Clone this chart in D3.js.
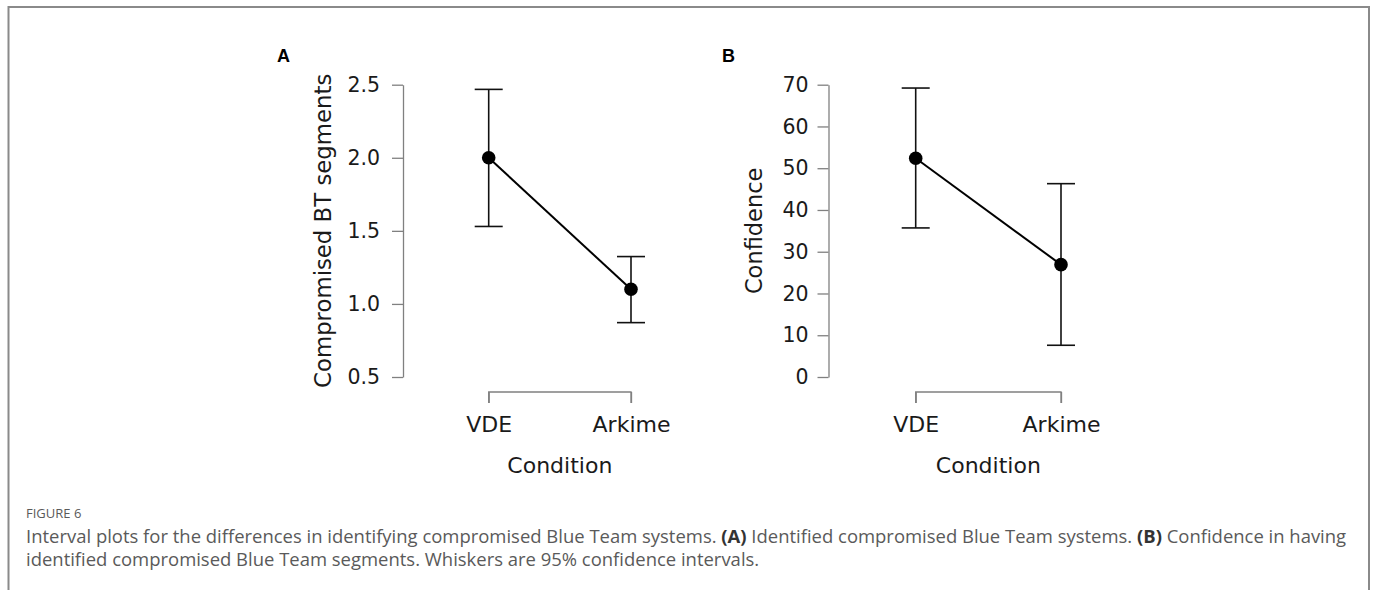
<!DOCTYPE html>
<meta charset="utf-8">
<style>
  body { margin: 0; background: #fff; }
  svg { display: block; }
  .axis path, .axis line { stroke: #808080; stroke-width: 1.3; }
  .axis text { fill: #1a1a1a; font-family: "DejaVu Sans", sans-serif; }
</style>
<svg></svg>

<script src="https://cdn.jsdelivr.net/npm/d3@7"></script>

<script>
// DATA
var conditions = ["VDE", "Arkime"];

// panel A: compromised BT segments, mean and 95% CI
var segMean = [2.0, 1.10],
    segLow = [1.53, 0.872],
    segHigh = [2.468, 1.324],
    segTicks = [0.5, 1.0, 1.5, 2.0, 2.5];

// panel B: confidence, mean and 95% CI
var confMean = [52.4, 26.9],
    confLow = [35.7, 7.6],
    confHigh = [69.2, 46.3],
    confTicks = [0, 10, 20, 30, 40, 50, 60, 70];

var W = 1373, H = 590;
var svg = d3.select("svg").attr("width", W).attr("height", H);

// figure frame
svg.append("path")
   .attr("d", "M8.5," + (H + 5) + "V7H1369V" + (H + 5))
   .attr("fill", "none")
   .attr("stroke", "#8a8a8a")
   .attr("stroke-width", 2);

var plotTop = 84.7, plotBottom = 377;

// draws one interval plot panel
function panel(opt) {
  var g = svg.append("g");

  var y = d3.scaleLinear().domain(opt.domain).range([plotBottom, plotTop]);
  var x = d3.scalePoint().domain(conditions).range(opt.xRange);

  // y axis
  g.append("g")
   .attr("class", "axis")
   .attr("transform", "translate(" + opt.axisX + ",0)")
   .call(d3.axisLeft(y).tickValues(opt.ticks).tickFormat(opt.fmt)
           .tickSize(11).tickSizeOuter(0).tickPadding(opt.pad))
   .call(function(s) { s.selectAll("text").style("font-size", "20.5px"); });

  // x axis bracket
  g.append("g")
   .attr("class", "axis")
   .attr("transform", "translate(0,392)")
   .call(d3.axisBottom(x).tickSize(11).tickSizeOuter(11).tickPadding(13))
   .call(function(s) {
     s.select(".domain").attr("d", "M" + opt.xRange[0] + ",11V0H" + opt.xRange[1] + "V11");
     s.selectAll("text").style("font-size", "22px");
   });

  // axis titles
  g.append("text")
   .attr("transform", "translate(" + opt.titleX + "," + ((plotTop + plotBottom) / 2) + ") rotate(-90)")
   .attr("text-anchor", "middle")
   .style("font-family", "DejaVu Sans, sans-serif")
   .style("font-size", opt.titleSize + "px")
   .attr("fill", "#1a1a1a")
   .text(opt.ylabel);

  g.append("text")
   .attr("x", (opt.xRange[0] + opt.xRange[1]) / 2)
   .attr("y", 473)
   .attr("text-anchor", "middle")
   .style("font-family", "DejaVu Sans, sans-serif")
   .style("font-size", "22px")
   .attr("fill", "#1a1a1a")
   .text("Condition");

  // panel letter
  g.append("text")
   .attr("x", opt.letterX)
   .attr("y", 62)
   .style("font-family", "Liberation Sans, Arial, sans-serif")
   .style("font-weight", "bold")
   .style("font-size", "18px")
   .text(opt.letter);

  var rows = conditions.map(function(c, i) {
    return { c: c, m: opt.mean[i], lo: opt.low[i], hi: opt.high[i] };
  });

  // whiskers
  var w = g.selectAll(".whisk").data(rows).enter().append("g").attr("class", "whisk")
           .attr("stroke", "#111").attr("stroke-width", 1.6);
  w.append("line")
   .attr("x1", function(d) { return x(d.c); }).attr("x2", function(d) { return x(d.c); })
   .attr("y1", function(d) { return y(d.lo); }).attr("y2", function(d) { return y(d.hi); });
  w.append("line")
   .attr("x1", function(d) { return x(d.c) - 14; }).attr("x2", function(d) { return x(d.c) + 14; })
   .attr("y1", function(d) { return y(d.hi); }).attr("y2", function(d) { return y(d.hi); });
  w.append("line")
   .attr("x1", function(d) { return x(d.c) - 14; }).attr("x2", function(d) { return x(d.c) + 14; })
   .attr("y1", function(d) { return y(d.lo); }).attr("y2", function(d) { return y(d.lo); });

  // mean line
  g.append("path")
   .datum(rows)
   .attr("fill", "none")
   .attr("stroke", "#000")
   .attr("stroke-width", 2)
   .attr("d", d3.line().x(function(d) { return x(d.c); }).y(function(d) { return y(d.m); }));

  // points
  g.selectAll(".pt").data(rows).enter().append("circle")
   .attr("class", "pt")
   .attr("cx", function(d) { return x(d.c); })
   .attr("cy", function(d) { return y(d.m); })
   .attr("r", 6.8)
   .attr("fill", "#000");
}

panel({
  letter: "A", letterX: 277,
  domain: [0.5, 2.5], ticks: segTicks, fmt: d3.format(".1f"), pad: 12,
  mean: segMean, low: segLow, high: segHigh,
  axisX: 403, xRange: [488.7, 631], titleX: 331, titleSize: 22.8,
  ylabel: "Compromised BT segments"
});

panel({
  letter: "B", letterX: 722,
  domain: [0, 70], ticks: confTicks, fmt: d3.format("d"), pad: 9,
  mean: confMean, low: confLow, high: confHigh,
  axisX: 828.5, xRange: [915.7, 1061], titleX: 762, titleSize: 22.5,
  ylabel: "Confidence"
});

// CAPTION
var cap = svg.append("g")
   .style("font-family", "'Open Sans', Lato, sans-serif")
   .attr("fill", "#5a5a5a");

cap.append("text")
   .attr("x", 26).attr("y", 518)
   .style("font-size", "13px")
   .text("FIGURE 6");

var line1 = cap.append("text").attr("x", 26).attr("y", 543).style("font-size", "17px");
line1.append("tspan").text("Interval plots for the differences in identifying compromised Blue Team systems. ");
line1.append("tspan").style("font-weight", "bold").attr("fill", "#333").text("(A)");
line1.append("tspan").text(" Identified compromised Blue Team systems. ");
line1.append("tspan").style("font-weight", "bold").attr("fill", "#333").text("(B)");
line1.append("tspan").text(" Confidence in having");

var line2 = cap.append("text").attr("x", 26).attr("y", 566).style("font-size", "17px")
   .text("identified compromised Blue Team segments. Whiskers are 95% confidence intervals.");

// fit the first caption line to the width it has in the figure
var capSize = 17 * 1321 / line1.node().getComputedTextLength();
line1.style("font-size", capSize + "px");
line2.style("font-size", capSize + "px");
</script>
